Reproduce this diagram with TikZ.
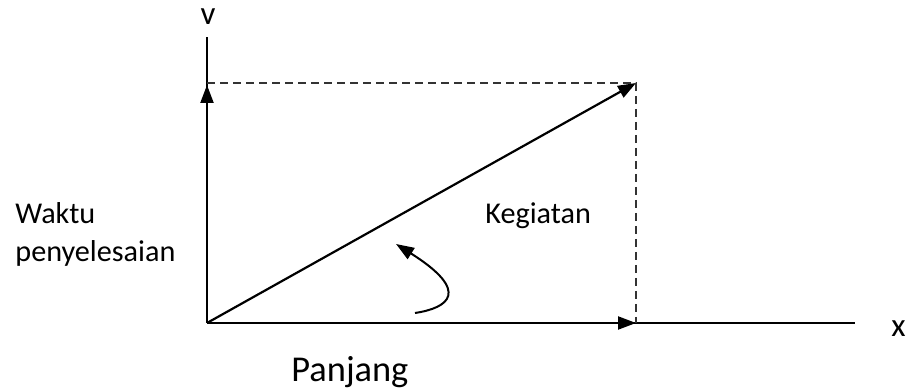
\documentclass[tikz,border=0pt]{standalone}
\usepackage{fontspec}
\setmainfont{Carlito}
\usetikzlibrary{arrows.meta}
\tikzset{
  axisline/.style={line width=1.1pt,draw=black},
  vec/.style={axisline,-{Triangle[length=9pt,width=6.5pt]}},
  guide/.style={draw=black!80,line width=0.75pt,dash pattern=on 4pt off 2.5pt},
  lbl/.style={inner sep=0pt,font=\fontsize{15.1}{19}\selectfont},
  axlbl/.style={inner sep=0pt,font=\fontsize{16.5}{19}\selectfont},
  biglbl/.style={inner sep=0pt,font=\fontsize{18.2}{22}\selectfont}
}
\begin{document}
\begin{tikzpicture}[x=0.5pt,y=-0.5pt]
  \useasboundingbox (0,0) rectangle (906,389);
  % axes and the vector
  \coordinate (O) at (207,323);
  \coordinate (ytop) at (207,37);
  \coordinate (ytip) at (207,85);
  \coordinate (P) at (636,83);
  \coordinate (xtip) at (636,323);
  \coordinate (xend) at (855,323);
  \draw[axisline] (O) -- (ytop);
  \draw[vec] (O) -- (ytip);
  \draw[axisline] (O) -- (xend);
  \draw[vec] (O) -- (xtip);
  \draw[vec] (O) -- (P);
  \draw[guide] (ytop|-P) -- (P) -- (xtip);
  % curved pointer
  \coordinate (c0) at (415,313);
  \coordinate (c1) at (396,244);
  \draw[vec,line width=1pt] (c0) .. controls (448,308) and (472,292) .. (c1);
  % labels
  \node[axlbl,anchor=base] (ylab) at (208,25) {v};
  \node[axlbl,anchor=base west] (xlab) at (891,337) {x};
  \node[lbl,anchor=base west] (waktu) at (15,224) {Waktu};
  \node[lbl,anchor=base west] (penyl) at (15,262) {penyelesaian};
  \node[lbl,anchor=base west] (keg) at (485,224) {Kegiatan};
  \node[biglbl,anchor=base west] (panj) at (291,382) {Panjang};
\end{tikzpicture}
\end{document}
